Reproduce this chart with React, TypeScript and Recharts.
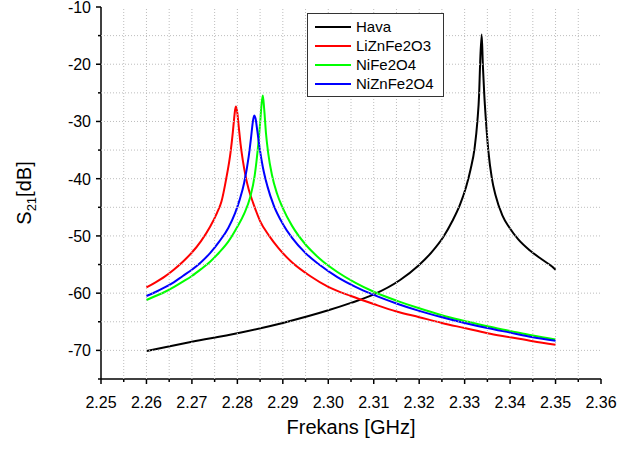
import { LineChart, Line, XAxis, YAxis, Legend } from "recharts";

// x ticks every 0.005 GHz (labels on the 0.01 ones), y ticks every 5 dB (labels on the 10s)
const xTicks = [
  2.25, 2.255, 2.26, 2.265, 2.27, 2.275, 2.28, 2.285, 2.29, 2.295, 2.3, 2.305,
  2.31, 2.315, 2.32, 2.325, 2.33, 2.335, 2.34, 2.345, 2.35, 2.355, 2.36,
];
const yTicks = [-75, -70, -65, -60, -55, -50, -45, -40, -35, -30, -25, -20, -15, -10];

const seriesNames = ["Hava", "LiZnFe2O3", "NiFe2O4", "NiZnFe2O4"];
const seriesColors = ["#000000", "#ff0000", "#00ff00", "#0000ff"];

const havaFreq = [
  2.26, 2.27, 2.28, 2.29, 2.3, 2.305, 2.3098, 2.3158, 2.3198, 2.3228, 2.3253, 2.3273,
  2.329, 2.3303, 2.3313, 2.3322, 2.3328, 2.3332, 2.3334, 2.33375, 2.334, 2.3343,
  2.3347, 2.3352, 2.336, 2.3368, 2.3383, 2.3398, 2.3418, 2.3443, 2.3468, 2.3493, 2.35,
];
const havaVals = [
  -70.1, -68.5, -67.0, -65.2, -63.0, -61.7, -60.3, -57.7, -55.2, -52.8, -50.2, -47.4,
  -44.5, -41.5, -38.4, -34.6, -30.0, -25.0, -20.0, -14.8, -20.0, -25.0,
  -30.0, -35.0, -40.0, -42.9, -46.4, -48.5, -50.6, -52.5, -54.0, -55.4, -55.9,
];

const liznFreq = [
  2.26, 2.262, 2.264, 2.266, 2.268, 2.27, 2.272, 2.274, 2.2755, 2.2765, 2.2775,
  2.2785, 2.279, 2.2793, 2.2795, 2.2797, 2.28, 2.2803, 2.2807, 2.2812, 2.2818,
  2.2825, 2.2835, 2.285, 2.287, 2.289, 2.292, 2.296, 2.3, 2.305, 2.31, 2.315, 2.32,
  2.325, 2.33, 2.335, 2.34, 2.345, 2.35,
];
const liznVals = [
  -59.0, -58.1, -57.1, -55.9, -54.5, -52.9, -50.9, -48.4, -46.0, -44.0, -40.2,
  -35.4, -31.9, -29.4, -28.0, -27.4, -28.6, -30.9, -33.9, -36.8, -39.5,
  -41.9, -44.3, -47.4, -50.0, -52.1, -54.6, -57.0, -58.9, -60.5, -61.9, -63.2, -64.2,
  -65.2, -66.1, -67.0, -67.7, -68.4, -69.0,
];

const nifeFreq = [
  2.26, 2.262, 2.264, 2.266, 2.268, 2.27, 2.272, 2.274, 2.276, 2.278, 2.28, 2.2815,
  2.2828, 2.2838, 2.2845, 2.285, 2.2853, 2.2856, 2.2859, 2.2863, 2.2868, 2.2876,
  2.2887, 2.29, 2.292, 2.295, 2.298, 2.302, 2.306, 2.31, 2.315, 2.32, 2.325, 2.33,
  2.335, 2.34, 2.345, 2.35,
];
const nifeVals = [
  -61.2, -60.5, -59.8, -58.95, -58.0, -57.0, -55.8, -54.5, -52.9, -51.0, -48.4, -46.1,
  -43.3, -39.5, -34.8, -30.35, -27.2, -25.45, -27.8, -32.1, -35.6, -39.3,
  -42.55, -45.15, -48.2, -51.5, -53.9, -56.3, -58.2, -59.75, -61.3, -62.65, -63.85, -64.85,
  -65.8, -66.6, -67.4, -68.1,
];

const niznFreq = [
  2.26, 2.262, 2.264, 2.266, 2.268, 2.27, 2.272, 2.274, 2.276, 2.278, 2.2795, 2.2805,
  2.2815, 2.2825, 2.283, 2.2834, 2.2837, 2.284, 2.2844, 2.2849, 2.2856, 2.2866, 2.288,
  2.29, 2.292, 2.295, 2.298, 2.302, 2.306, 2.31, 2.315, 2.32, 2.325, 2.33, 2.335, 2.34,
  2.345, 2.35,
];
const niznVals = [
  -60.5, -59.8, -59.0, -58.1, -57.0, -55.9, -54.6, -53.0, -51.0, -48.6, -46.0, -43.7,
  -40.7, -36.1, -32.9, -30.1, -28.95, -29.5, -31.7, -34.65, -37.95, -41.3, -44.65,
  -47.9, -50.3, -53.0, -55.0, -57.2, -58.9, -60.3, -61.8, -63.1, -64.2, -65.2, -66.1, -66.9,
  -67.7, -68.3,
];

const toRows = (freq: number[], vals: number[]) => freq.map((f, i) => ({ f, v: vals[i] }));
const seriesData = [
  toRows(havaFreq, havaVals),
  toRows(liznFreq, liznVals),
  toRows(nifeFreq, nifeVals),
  toRows(niznFreq, niznVals),
];

const FONT = "'Liberation Sans', Arial, sans-serif";
const GRID = "#bdbdbd";
// plot box size: 642 - 41 (right) - 101 (y axis) wide, 450 - 7 (top) - 71 (x axis) high
const PLOT_W = 500;
const PLOT_H = 372;

function XTick(props: any) {
  const { x, y, payload, index } = props;
  const v = payload.value as number;
  const major = Math.round(v * 1000) % 10 === 0;
  const edge = index === 0 || index === xTicks.length - 1;
  return (
    <g>
      {!edge && <line x1={x} x2={x} y1={y} y2={y - PLOT_H} stroke={GRID} strokeDasharray="1 2" />}
      <line x1={x} x2={x} y1={y} y2={y + (major ? 5 : 3)} stroke="#000" strokeWidth={1.5} />
      {major && (
        <text x={x} y={y + 29} textAnchor="middle" fontSize={16} fill="#000" fontFamily={FONT}>
          {v.toFixed(2)}
        </text>
      )}
    </g>
  );
}

function YTick(props: any) {
  const { x, y, payload, index } = props;
  const v = payload.value as number;
  const major = v % 10 === 0;
  const edge = index === 0 || index === yTicks.length - 1;
  return (
    <g>
      {!edge && <line x1={x} x2={x + PLOT_W} y1={y} y2={y} stroke={GRID} strokeDasharray="1 2" />}
      <line x1={x} x2={x - (major ? 5 : 3)} y1={y} y2={y} stroke="#000" strokeWidth={1.5} />
      {major && (
        <text x={x - 10} y={y + 6} textAnchor="end" fontSize={16} fill="#000" fontFamily={FONT}>
          {v}
        </text>
      )}
    </g>
  );
}

function YTitle(props: any) {
  const vb = props.viewBox;
  const cx = vb.x + 31;
  const cy = vb.y + vb.height / 2;
  return (
    <text
      x={cx}
      y={cy}
      transform={`rotate(-90 ${cx} ${cy})`}
      textAnchor="middle"
      fontSize={20}
      fill="#000"
      fontFamily={FONT}
    >
      <tspan>S</tspan>
      <tspan dy={5} fontSize={13}>21</tspan>
      <tspan dy={-5}>[dB]</tspan>
    </text>
  );
}

function LegendBox() {
  return (
    <div
      style={{
        position: "relative",
        width: 137,
        height: 84,
        border: "1px solid #333",
        background: "#fff",
        boxSizing: "border-box",
        fontFamily: FONT,
      }}
    >
      {seriesNames.map((name, i) => (
        <div
          key={name}
          style={{ position: "absolute", left: 7, top: 4 + i * 19, height: 18, display: "flex", alignItems: "center" }}
        >
          <div style={{ width: 36, height: 2, background: seriesColors[i] }} />
          <span style={{ marginLeft: 5, fontSize: 15, color: "#000", lineHeight: "18px" }}>{name}</span>
        </div>
      ))}
    </div>
  );
}

export default function App() {
  return (
    <div style={{ position: "absolute", left: 0, top: 0, background: "#fff", fontFamily: FONT }}>
      <LineChart width={642} height={450} margin={{ top: 7, right: 41, left: 0, bottom: 0 }}>
        <XAxis
          dataKey="f"
          type="number"
          domain={[2.25, 2.36]}
          ticks={xTicks}
          interval={0}
          allowDataOverflow
          height={71}
          tickSize={0}
          tickMargin={0}
          tickLine={false}
          tick={<XTick />}
          axisLine={{ stroke: "#000", strokeWidth: 1.5 }}
          label={{
            value: "Frekans [GHz]",
            position: "insideBottom",
            offset: 16,
            style: { fontSize: 20, fill: "#000", fontFamily: FONT },
          }}
        />
        <XAxis xAxisId="top" orientation="top" type="number" domain={[2.25, 2.36]} height={0} tick={false} tickLine={false} axisLine={{ stroke: "#666", strokeWidth: 1.5 }} />
        <YAxis
          type="number"
          domain={[-75, -10]}
          ticks={yTicks}
          interval={0}
          allowDataOverflow
          width={101}
          tickSize={0}
          tickMargin={0}
          tickLine={false}
          tick={<YTick />}
          axisLine={{ stroke: "#000", strokeWidth: 1.5 }}
          label={{ content: <YTitle /> }}
        />
        <YAxis yAxisId="right" orientation="right" type="number" domain={[-75, -10]} width={0} tick={false} tickLine={false} axisLine={{ stroke: "#666", strokeWidth: 1.5 }} />
        <Legend
          layout="vertical"
          align="center"
          verticalAlign="middle"
          content={<LegendBox />}
          wrapperStyle={{ left: 307, top: 13, width: 137, height: 84 }}
        />
        {seriesData.map((rows, i) => (
          <Line
            key={seriesNames[i]}
            data={rows}
            dataKey="v"
            name={seriesNames[i]}
            type="monotone"
            stroke={seriesColors[i]}
            strokeWidth={2}
            dot={false}
            activeDot={false}
            isAnimationActive={false}
          />
        ))}
      </LineChart>
    </div>
  );
}
